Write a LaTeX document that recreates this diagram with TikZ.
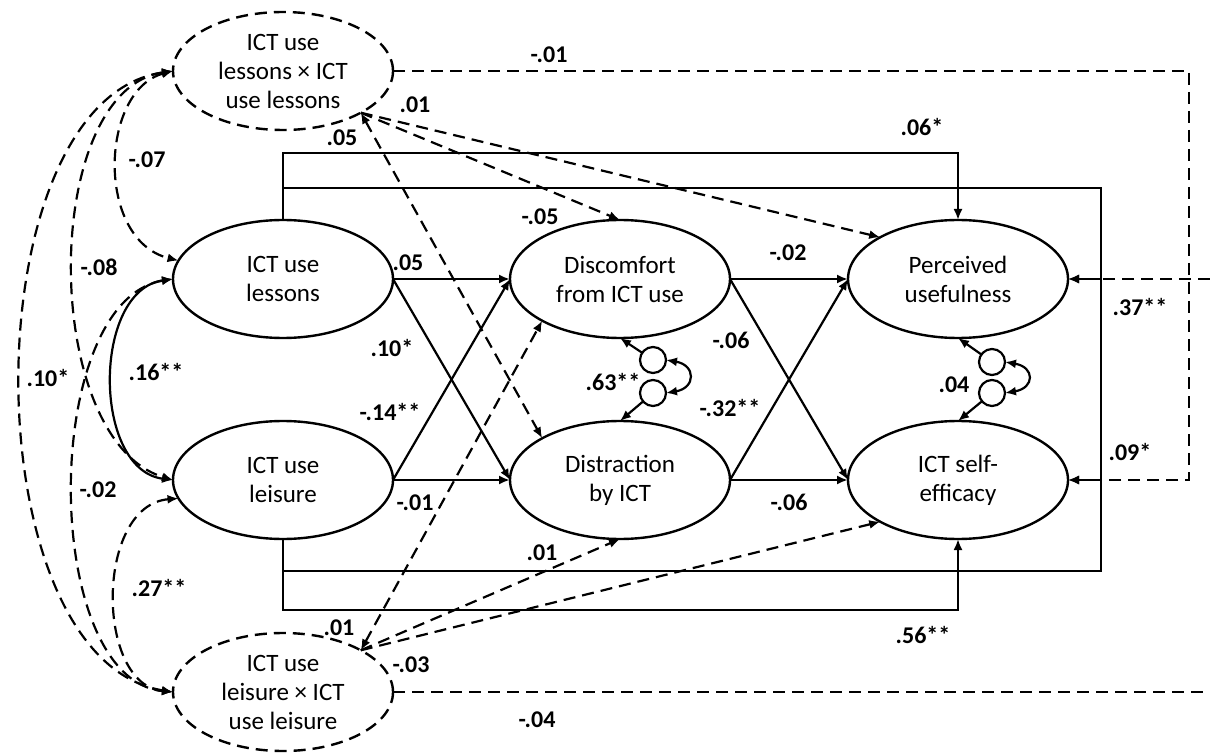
\documentclass[tikz,border=0pt]{standalone}
\usepackage{fontspec}
\setmainfont{Carlito}
\usepackage{tikz}
\usetikzlibrary{arrows.meta, shapes.geometric, positioning, calc}

\tikzset{
  latent/.style={draw, ellipse, line width=1.2pt, minimum width=110pt,
                 minimum height=59pt, inner sep=0pt, outer sep=0pt,
                 align=center, font=\fontsize{12.5}{14.5}\selectfont},
  inter/.style={latent, dash pattern=on 6pt off 3.5pt},
  resid/.style={draw, circle, line width=1.1pt, minimum size=13pt,
                inner sep=0pt, outer sep=0pt},
  effect/.style={line width=1.1pt, -{Latex[length=5.5pt,width=4.5pt]}},
  modeffect/.style={effect, dash pattern=on 6pt off 3.5pt},
  modline/.style={line width=1.1pt, dash pattern=on 6pt off 3.5pt},
  cov/.style={line width=1.1pt,
              {Latex[length=5.5pt,width=4.5pt]}-{Latex[length=5.5pt,width=4.5pt]}},
  modcov/.style={cov, dash pattern=on 6pt off 3.5pt},
  coef/.style={font=\fontsize{12}{14}\selectfont\bfseries, inner sep=0pt}
}

\begin{document}
\begin{tikzpicture}[x=0.5pt, y=-0.5pt]
  \useasboundingbox (0,0) rectangle (1210,754);

  %% Latent variables
  \node[inter]  (intLes)   at (283,71)  {ICT use\\lessons × ICT\\use lessons};
  \node[latent] (useLes)   at (283,279) {ICT use\\lessons};
  \node[latent] (useLei)   at (283,480) {ICT use\\leisure};
  \node[inter]  (intLei)   at (283,692) {ICT use\\leisure × ICT\\use leisure};
  \node[latent] (discomf)  at (620,279) {Discomfort\\from ICT use};
  \node[latent] (distract) at (620,480) {Distraction\\by ICT};
  \node[latent] (perceiv)  at (958,279) {Perceived\\usefulness};
  \node[latent] (selfeff)  at (958,480) {ICT self-\\efficacy};

  %% Residuals
  \node[resid] (e1) at (653,360) {};
  \node[resid] (e2) at (653,393) {};
  \node[resid] (e3) at (992,362) {};
  \node[resid] (e4) at (992,393) {};

  %% Rails for the long paths
  \coordinate (railA) at (0,153);
  \coordinate (railB) at (0,188);
  \coordinate (railC) at (0,571);
  \coordinate (railD) at (0,610);
  \coordinate (railE) at (1101,0);
  \coordinate (railF) at (1189,0);
  \coordinate (edgeR) at (1210,0);

  %% Interaction effects (dashed)
  \draw[modeffect] (intLes.east) -| (railF |- selfeff.east) -- (selfeff.east);
  \draw[modeffect] (edgeR |- perceiv.east) -- (perceiv.east);
  \draw[modline]   (intLei.east) -- (intLei.east -| edgeR);
  \draw[modeffect] (intLes.south east) -- (discomf.north);
  \draw[modeffect] (intLes.south east) -- (perceiv.north west);
  \draw[modcov]    (intLes.south east) -- (distract.north west);
  \draw[modeffect] (intLei.north east) -- (distract.south);
  \draw[modeffect] (intLei.north east) -- (selfeff.south west);
  \draw[modcov]    (intLei.north east) -- (discomf.south west);

  %% Direct effects
  \draw[effect] (useLes.north) -- (useLes.north |- railA) -| (perceiv.north);
  \draw[effect] (useLes.north) -- (useLes.north |- railB)
                -| (railE |- selfeff.east) -- (selfeff.east);
  \draw[effect] (useLei.south) -- (useLei.south |- railC)
                -| (railE |- perceiv.east) -- (perceiv.east);
  \draw[effect] (useLei.south) -- (useLei.south |- railD) -| (selfeff.south);

  %% Mediated paths
  \draw[effect] (useLes.east) -- (discomf.west);
  \draw[effect] (useLes.east) -- (distract.west);
  \draw[effect] (useLei.east) -- (discomf.west);
  \draw[effect] (useLei.east) -- (distract.west);
  \draw[effect] (discomf.east) -- (perceiv.west);
  \draw[effect] (discomf.east) -- (selfeff.west);
  \draw[effect] (distract.east) -- (perceiv.west);
  \draw[effect] (distract.east) -- (selfeff.west);

  %% Residual covariances
  \draw[effect] (e1) -- (discomf.south);
  \draw[effect] (e2) -- (distract.north);
  \draw[effect] (e3) -- (perceiv.south);
  \draw[effect] (e4) -- (selfeff.north);
  \draw[cov] (e1.east) .. controls +(30,5) and +(30,-5) .. (e2.east);
  \draw[cov] (e3.east) .. controls +(30,5) and +(30,-5) .. (e4.east);

  %% Covariances of the predictors
  \draw[modcov] (intLes.west) .. controls (100,90) and (95,240) .. (useLes.170);
  \draw[modcov] (intLes.west) .. controls (40,90) and (40,440) .. (useLei.west);
  \draw[modcov] (intLes.west) .. controls (-30,100) and (-30,660) .. (intLei.west);
  \draw[cov]    (useLes.west) .. controls (92,290) and (92,470) .. (useLei.west);
  \draw[modcov] (useLes.west) .. controls (40,300) and (40,680) .. (intLei.west);
  \draw[modcov] (useLei.190) .. controls (95,505) and (95,685) .. (intLei.west);

  %% Coefficients: (x, y, value)
  \foreach \x/\y/\v [count=\i] in {
      408/263/.05, 392/348/.10*, 390/412/-.14**, 415/503/-.01,
      788/253/-.02, 731/340/-.06, 730/408/-.32**, 789/502/-.06,
      613/382/.63**, 954/385/.04,
      922/127/.06*, 1140/307/.37**, 1130/452/.09*, 923/635/.56**,
      549/55/-.01, 415/105/.01, 342/138/.05, 540/217/-.05,
      542/553/.01, 339/628/.01, 411/665/-.03, 537/720/-.04,
      147/160/-.07, 99/267/-.08, 48/378/.10*, 156/372/.16**,
      98/490/-.02, 159/588/.27**} {
    \node[coef] (c\i) at (\x,\y) {\v};
  }
\end{tikzpicture}
\end{document}
